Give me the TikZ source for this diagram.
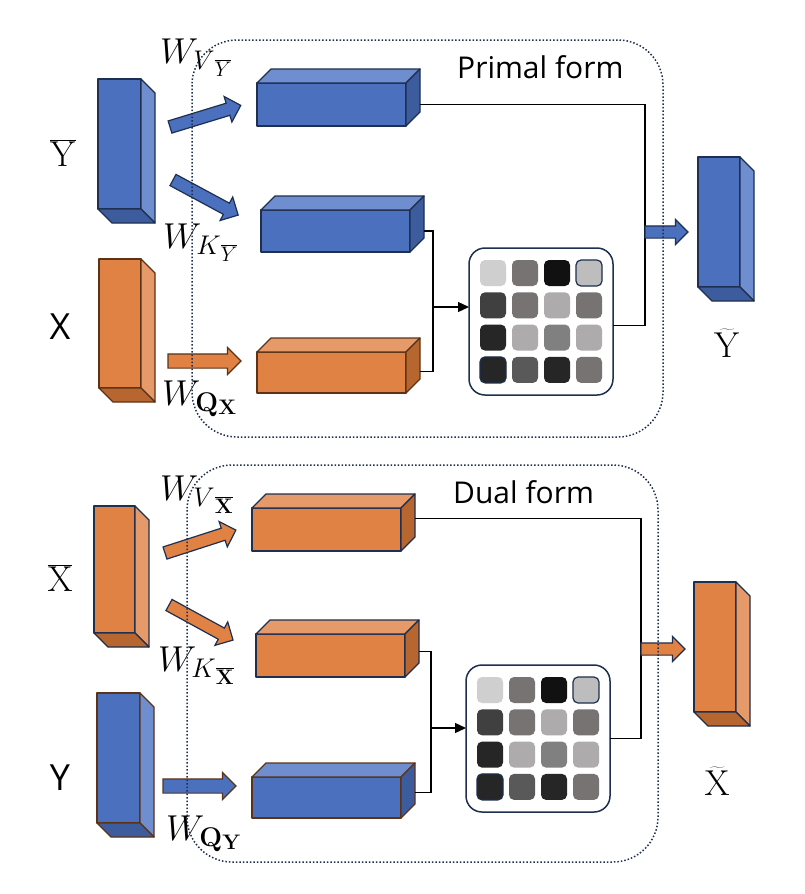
\RequirePackage{fix-cm}
\documentclass[tikz,border=0pt]{standalone}
\usepackage[no-math]{fontspec}
\setmainfont{Open Sans}
\DeclareMathSizes{36}{36}{27}{21}
\usetikzlibrary{shapes.arrows,calc,arrows.meta,fit}
\newcommand{\mysubsub}[2]{\lower#1pt\hbox{$\scriptscriptstyle #2$}}
\definecolor{blueF}{HTML}{4A70BE}
\definecolor{blueL}{HTML}{6F8ED0}
\definecolor{blueD}{HTML}{3D5C9E}
\definecolor{orangeF}{HTML}{DF8244}
\definecolor{orangeL}{HTML}{E69A6A}
\definecolor{orangeD}{HTML}{B8662F}
\definecolor{navy}{HTML}{1F2F4F}
\definecolor{brownb}{HTML}{5C3317}
\definecolor{cA}{HTML}{D0CFD0}
\definecolor{cB}{HTML}{767372}
\definecolor{cC}{HTML}{111111}
\definecolor{cD}{HTML}{BDBDBD}
\definecolor{cE}{HTML}{404040}
\definecolor{cF}{HTML}{ADABAB}
\definecolor{cG}{HTML}{262626}
\definecolor{cH}{HTML}{808080}
\definecolor{cI}{HTML}{595959}
\tikzset{
  face/.style={line width=1.3pt, line join=round},
  frame/.style={draw=navy, line width=1.5pt, dash pattern=on 1.5pt off 2pt, rounded corners=45pt},
  conn/.style={line width=1.3pt, draw=black},
  barrow/.style={single arrow, inner xsep=0pt, single arrow head extend=#1, line width=1.2pt, anchor=tail, outer sep=0pt},
  wlab/.style={font=\fontsize{36}{40}\selectfont, inner sep=0pt, anchor=base west},
  biglab/.style={font=\fontsize{36}{40}\selectfont, inner sep=0pt, anchor=base},
  formlab/.style={font=\fontsize{30}{34}\selectfont, inner sep=0pt, anchor=base west},
}
\newcommand{\tallcub}[5]{%
  \node[fit={#2 #3}, inner sep=0pt, outer sep=0pt, draw=#5, fill=#4F, face] (#1) {};
  \draw[face, draw=#5, fill=#4L] (#1.north east) -- ++(14,14) -- ($(#1.south east)+(14,14)$) -- (#1.south east) -- cycle;
  \draw[face, draw=#5, fill=#4D] (#1.south west) -- ++(14,14) -- ($(#1.south east)+(14,14)$) -- (#1.south east) -- cycle;
}
\newcommand{\widecub}[5]{%
  \node[fit={#2 #3}, inner sep=0pt, outer sep=0pt, draw=#5, fill=#4F, face] (#1) {};
  \draw[face, draw=#5, fill=#4L] (#1.north west) -- ++(14,-14) -- ($(#1.north east)+(14,-14)$) -- (#1.north east) -- cycle;
  \draw[face, draw=#5, fill=#4D] (#1.north east) -- ++(14,-14) -- ($(#1.south east)+(14,-14)$) -- (#1.south east) -- cycle;
}
\newcommand{\attmat}[3]{%
  \node[fit={(#2,#3) ({#2+144},{#3+147})}, inner sep=0pt, outer sep=0pt, draw=navy, line width=1.5pt, rounded corners=16pt, fill=white] (#1) {};
  \foreach \cc/\rr/\col in {0/0/cA,1/0/cB,2/0/cC,0/1/cE,1/1/cB,2/1/cF,3/1/cB,0/2/cG,1/2/cF,2/2/cH,3/2/cF,1/3/cI,2/3/cG,3/3/cB}
    \fill[\col, rounded corners=5pt] ({#2+11+32*\cc},{#3+12+32.3*\rr}) rectangle ++(26,26);
  \filldraw[fill=cD, draw=navy, line width=1.2pt, rounded corners=5pt] ({#2+11+96},{#3+12}) rectangle ++(26,26);
  \filldraw[fill=cG, draw=navy, line width=1.2pt, rounded corners=5pt] ({#2+11},{#3+12+96.9}) rectangle ++(26,26);
}
\begin{document}
\begin{tikzpicture}[x=1pt,y=-1pt]
\useasboundingbox (0,0) rectangle (804,894);
\fill[white] (0,0) rectangle (804,894);

% ---------------- Primal form ----------------
\tallcub{inYb}{(98,79)}{(141,209)}{blue}{navy}
\tallcub{inX}{(99,259)}{(141,388)}{orange}{brownb}
\widecub{vP}{(257,83)}{(406,126)}{blue}{navy}
\widecub{kP}{(261,210)}{(410,252)}{blue}{navy}
\widecub{qP}{(257,352)}{(406,393)}{orange}{brownb}
\tallcub{outY}{(698,157)}{(740,287)}{blue}{navy}
\attmat{attP}{469}{248}

\node[barrow=7pt, inner ysep=5.75pt, fill=blueF, draw=navy, minimum height=74pt, rotate=17] (aVP) at (170,127) {};
\node[barrow=7pt, inner ysep=5.75pt, fill=blueF, draw=navy, minimum height=74pt, rotate=-28.3] (aKP) at (173,180) {};
\node[barrow=6.5pt, inner ysep=6.5pt, fill=orangeF, draw=brownb, minimum height=73pt] (aQP) at (168,361) {};

\coordinate (vPb) at ($(vP.east)+(14,0)$);
\coordinate (kPb) at ($(kP.east)+(14,0)$);
\coordinate (qPb) at ($(qP.east)+(14,-1)$);
\coordinate (jP) at (433,307);
\coordinate (busP) at (645,232);
\draw[conn] (kPb) -| (jP) |- (qPb);
\draw[conn, -{Triangle[length=11pt,width=10pt]}] (jP) -- (attP.west |- jP);
\draw[conn] ($(attP.east)+(0,4)$) -| (busP) |- (vPb);
\node[barrow=6.5pt, inner ysep=5.5pt, fill=blueF, draw=navy, minimum height=43pt] (oP) at (busP) {};

\node[wlab] (wVP) at (160,63) {$W_{V\mysubsub{7}{\overline{Y}}}$};
\node[wlab] (wKP) at (163,248) {$W_{K\mysubsub{7}{\overline{Y}}}$};
\node[wlab] (wQP) at (162,405) {$W_{\mathbf{Q}\mysubsub{3}{\mathbf{X}}}$};
\node[biglab] (lYb) at (63,166) {$\overline{\mathrm{Y}}$};
\node[biglab] (lX) at (60,339) {X};
\node[biglab] (lYt) at (727,357) {$\widetilde{\mathrm{Y}}$};
\node[formlab] (tP) at (457,78) {Primal form};
\draw[frame] (192,40) rectangle (663,437);

% ---------------- Dual form ----------------
\tallcub{inXb}{(94,506)}{(135,633)}{orange}{navy}
\tallcub{inY}{(97,693)}{(140,823)}{blue}{brownb}
\widecub{vD}{(252,508)}{(401,551)}{orange}{navy}
\widecub{kD}{(256,634)}{(405,677)}{orange}{navy}
\widecub{qD}{(252,777)}{(401,818)}{blue}{brownb}
\tallcub{outX}{(694,582)}{(736,712)}{orange}{navy}
\attmat{attD}{466}{665}

\node[barrow=7pt, inner ysep=5.75pt, fill=orangeF, draw=navy, minimum height=74.5pt, rotate=17.9] (aVD) at (165,553) {};
\node[barrow=7pt, inner ysep=5.75pt, fill=orangeF, draw=navy, minimum height=73pt, rotate=-28.7] (aKD) at (169,605) {};
\node[barrow=6.5pt, inner ysep=6.5pt, fill=blueF, draw=brownb, minimum height=73pt] (aQD) at (163,786) {};

\coordinate (vDb) at ($(vD.east)+(14,-11)$);
\coordinate (kDb) at ($(kD.east)+(14,-4)$);
\coordinate (qDb) at ($(qD.east)+(14,-5)$);
\coordinate (jD) at (431,728);
\coordinate (busD) at (641,649);
\draw[conn] (kDb) -| (jD) |- (qDb);
\draw[conn, -{Triangle[length=11pt,width=10pt]}] (jD) -- (attD.west |- jD);
\draw[conn] (attD.east) -| (busD) |- (vDb);
\node[barrow=6.5pt, inner ysep=5.5pt, fill=orangeF, draw=navy, minimum height=44pt] (oD) at (busD) {};

\node[wlab] (wVD) at (160,500) {$W_{V\mysubsub{7}{\overline{\mathbf{X}}}}$};
\node[wlab] (wKD) at (158,671) {$W_{K\mysubsub{7}{\overline{\mathbf{X}}}}$};
\node[wlab] (wQD) at (166,840) {$W_{\mathbf{Q}\mysubsub{3}{\mathbf{Y}}}$};
\node[biglab] (lXb) at (60,591) {$\overline{\mathrm{X}}$};
\node[biglab] (lY) at (60,790) {Y};
\node[biglab] (lXt) at (717,795) {$\widetilde{\mathrm{X}}$};
\node[formlab] (tD) at (453,503) {Dual form};
\draw[frame] (187,465) rectangle (658,862);
\end{tikzpicture}
\end{document}
